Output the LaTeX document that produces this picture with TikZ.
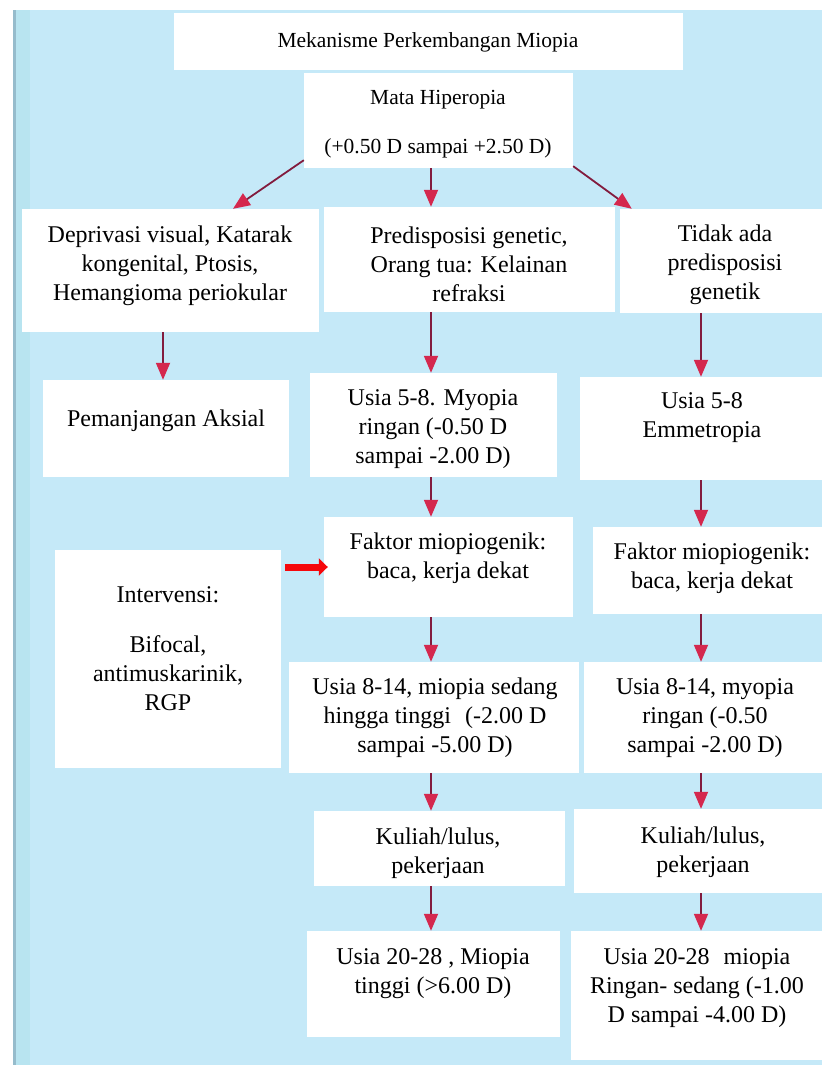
\documentclass[tikz,border=0pt]{standalone}
\usepackage{fontspec}
\setmainfont{Liberation Serif}
\usetikzlibrary{arrows.meta,fit}
\definecolor{bgblue}{RGB}{197,233,248}
\definecolor{edgeblue}{RGB}{150,188,204}
\definecolor{edgelight}{RGB}{184,228,240}
\definecolor{shaft}{RGB}{130,28,62}
\definecolor{headred}{RGB}{212,40,78}
\definecolor{bigred}{RGB}{245,8,12}
\begin{document}
\begin{tikzpicture}[x=1pt,y=-1pt,
  box/.style={fill=white,draw=none,inner sep=0pt},
  txt/.style={align=center,inner sep=0pt,font=\fontsize{24}{29}\selectfont},
  smalltxt/.style={align=center,inner sep=0pt,font=\fontsize{21.5}{25}\selectfont},
  flow/.style={draw=shaft,line width=1.8pt,-{Triangle[length=17pt,width=14pt,color=headred]}},
  push/.style={draw=bigred,line width=7pt,-{Triangle[length=9pt,width=17pt,color=bigred]}}]
\useasboundingbox (0,0) rectangle (822,1070);
% background
\fill[bgblue] (13,10) rectangle (822,1065);
\fill[edgeblue] (13,10) rectangle (16,1065);
\fill[edgelight] (16,10) rectangle (30,1065);
% column coordinates
\coordinate (c1) at (163,0);
\coordinate (c2) at (431,0);
\coordinate (c3) at (701,0);
% boxes
\node[box,fit={(174,13)(683,70)}] (title) {};
\node[box,fit={(304,73)(573,168)}] (mata) {};
\node[box,fit={(22,209)(319,332)}] (dep) {};
\node[box,fit={(324,207)(615,312)}] (pre) {};
\node[box,fit={(620,209)(830,313)}] (tid) {};
\node[box,fit={(43,380)(289,477)}] (pem) {};
\node[box,fit={(310,373)(557,477)}] (usiaa) {};
\node[box,fit={(580,377)(830,480)}] (usiab) {};
\node[box,fit={(324,517)(573,617)}] (faka) {};
\node[box,fit={(593,527)(830,614)}] (fakb) {};
\node[box,fit={(55,550)(281,768)}] (interv) {};
\node[box,fit={(289,662)(579,773)}] (usiac) {};
\node[box,fit={(584,662)(830,773)}] (usiad) {};
\node[box,fit={(314,811)(565,886)}] (kula) {};
\node[box,fit={(574,809)(830,893)}] (kulb) {};
\node[box,fit={(307,931)(560,1037)}] (usiae) {};
\node[box,fit={(571,931)(830,1060)}] (usiaf) {};
% texts
\node[smalltxt] (titlet) at (428,42) {Mekanisme Perkembangan Miopia};
\node[smalltxt] (matat) at (438,124) {Mata Hiperopia\\[24pt](+0.50 D sampai +2.50 D)};
\node[txt] (dept) at (170,266) {Deprivasi visual, Katarak\\kongenital, Ptosis,\\Hemangioma periokular};
\node[txt] (pret) at (469,264) {Predisposisi genetic,\\Orang tua: Kelainan\\refraksi};
\node[txt] (tidt) at (725,265) {Tidak ada\\predisposisi\\genetik};
\node[txt] (pemt) at (166,421) {Pemanjangan Aksial};
\node[txt] (usiaat) at (433,429) {Usia 5-8. Myopia\\ringan (-0.50 D\\sampai -2.00 D)};
\node[txt] (usiabt) at (702,418) {Usia 5-8\\Emmetropia};
\node[txt] (fakat) at (448,558) {Faktor miopiogenik:\\baca, kerja dekat};
\node[txt] (fakbt) at (712,568) {Faktor miopiogenik:\\baca, kerja dekat};
\node[txt] (intervt) at (168,649) {Intervensi:\\[21pt]Bifocal,\\antimuskarinik,\\RGP};
\node[txt] (usiact) at (435,718) {Usia 8-14, miopia sedang\\hingga tinggi\hspace{14pt}(-2.00 D\\sampai -5.00 D)};
\node[txt] (usiadt) at (705,718) {Usia 8-14, myopia\\ringan (-0.50\\sampai -2.00 D)};
\node[txt] (kulat) at (438,853) {Kuliah/lulus,\\pekerjaan};
\node[txt] (kulbt) at (703,852) {Kuliah/lulus,\\pekerjaan};
\node[txt] (usiaet) at (433,974) {Usia 20-28 , Miopia\\tinggi (>6.00 D)};
\node[txt] (usiaft) at (697,988) {Usia 20-28\hspace{8pt} miopia\\Ringan- sedang (-1.00\\D sampai -4.00 D)};
% connectors
\draw[flow] ([yshift=8pt]mata.south west) -- ([xshift=62.5pt]dep.north);
\draw[flow] (mata.south -| c2) -- (pre.north -| c2);
\draw[flow] ([yshift=2pt]mata.south east) -- ([xshift=12pt]tid.north west);
\draw[flow] (dep.south -| c1) -- (pem.north -| c1);
\draw[flow] (pre.south -| c2) -- (usiaa.north -| c2);
\draw[flow] (tid.south -| c3) -- (usiab.north -| c3);
\draw[flow] (usiaa.south -| c2) -- (faka.north -| c2);
\draw[flow] (usiab.south -| c3) -- (fakb.north -| c3);
\draw[flow] (faka.south -| c2) -- (usiac.north -| c2);
\draw[flow] (fakb.south -| c3) -- (usiad.north -| c3);
\draw[flow] (usiac.south -| c2) -- (kula.north -| c2);
\draw[flow] (usiad.south -| c3) -- (kulb.north -| c3);
\draw[flow] (kula.south -| c2) -- (usiae.north -| c2);
\draw[flow] (kulb.south -| c3) -- (usiaf.north -| c3);
\draw[push] ([xshift=4pt]interv.east |- faka.west) -- ([xshift=4pt]faka.west);
\end{tikzpicture}
\end{document}
